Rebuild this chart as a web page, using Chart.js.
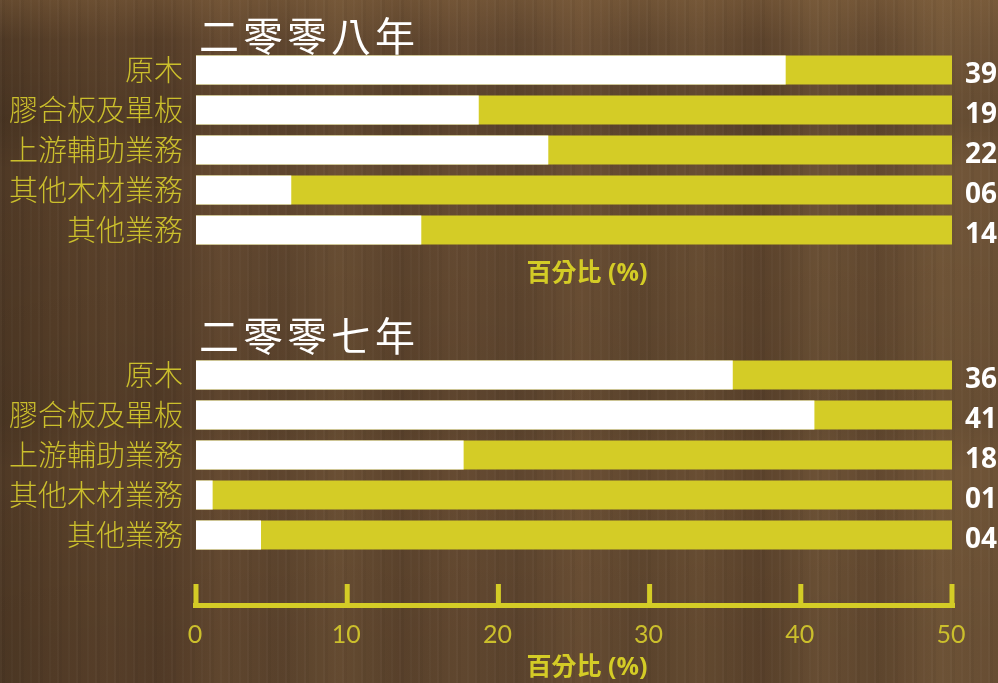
<!DOCTYPE html>
<html>
<head>
<meta charset="utf-8">
<script src="https://cdn.jsdelivr.net/npm/chart.js@4"></script>
<style>
  html, body { margin: 0; padding: 0; }
  body {
    width: 998px; height: 683px; overflow: hidden; position: relative;
    background-color: #624830;
    background-image:
      repeating-linear-gradient(90deg, rgba(255,255,255,0.025) 0 2px, rgba(0,0,0,0.035) 2px 5px, rgba(0,0,0,0) 5px 11px, rgba(255,255,255,0.02) 11px 13px, rgba(0,0,0,0) 13px 19px),
      linear-gradient(180deg, rgba(140,105,65,0.35) 0px, rgba(0,0,0,0) 40px, rgba(0,0,0,0.10) 120px, rgba(0,0,0,0) 170px, rgba(0,0,0,0.08) 420px, rgba(0,0,0,0) 470px, rgba(0,0,0,0.06) 640px),
      linear-gradient(90deg, #4f3925 0px, #563e28 50px, #5b422b 110px, #553d28 160px, #654a31 220px, #5e452e 280px, #6a4f34 340px, #5d442d 400px, #664b32 460px, #5f462f 520px, #6c5035 580px, #60472f 640px, #694e33 700px, #5c432c 760px, #6d5236 820px, #634930 880px, #735739 940px, #6d5236 998px);
  }
  canvas { position: absolute; left: 0; }
  #chart2008 { top: 0; }
  #chart2007 { top: 300px; }
</style>
</head>
<body>
<canvas id="chart2008" width="998" height="300"></canvas>
<canvas id="chart2007" width="998" height="383"></canvas>
<script>
const categories = ['原木', '膠合板及單板', '上游輔助業務', '其他木材業務', '其他業務'];

const values2008 = [39.0, 18.7, 23.3, 6.3, 14.9];
const valueLabels2008 = ['39', '19', '22', '06', '14'];

const values2007 = [35.5, 40.9, 17.7, 1.1, 4.3];
const valueLabels2007 = ['36', '41', '18', '01', '04'];

const trackValues = [50, 50, 50, 50, 50];
const axisTicks = [0, 10, 20, 30, 40, 50];
const axisTitle = '百分比 (%)';

const YELLOW = '#d4cc26';
const LABEL_COLOR = '#cbbf2c';
const CJK = '"Noto Sans CJK TC", "Noto Sans CJK SC", sans-serif';

const decorPlugin = {
  id: 'decor',
  afterDatasetsDraw(chart, args, opts) {
    const { ctx, chartArea, scales: { x } } = chart;
    ctx.save();
    ctx.textAlign = 'left';

    // year heading
    ctx.fillStyle = '#ffffff';
    ctx.font = '40px ' + CJK;
    ctx.textBaseline = 'middle';
    ctx.letterSpacing = '4px';
    ctx.fillText(opts.title, chartArea.left + 3, opts.titleY);
    ctx.letterSpacing = '0px';

    // values at the right end of each bar
    ctx.font = 'bold 28px "Open Sans", sans-serif';
    ctx.textBaseline = 'alphabetic';
    const meta = chart.getDatasetMeta(0);
    meta.data.forEach((bar, i) => {
      ctx.fillText(opts.labels[i], chartArea.right + 13, bar.y + 13);
    });

    // bracket-style axis with upward ticks and its labels
    if (opts.axis) {
      const baseY = x.top + 50;
      const x0 = x.getPixelForValue(axisTicks[0]);
      const x1 = x.getPixelForValue(axisTicks[axisTicks.length - 1]);
      ctx.fillStyle = YELLOW;
      ctx.fillRect(x0 - 3, baseY - 2, x1 - x0 + 6, 5);
      ctx.font = '25px Lato, sans-serif';
      ctx.textAlign = 'center';
      axisTicks.forEach(v => {
        const px = x.getPixelForValue(v);
        ctx.fillStyle = YELLOW;
        ctx.fillRect(px - 2.5, baseY - 21, 5, 22);
        ctx.fillStyle = LABEL_COLOR;
        ctx.fillText(String(v), px - 1, x.top + 88);
      });
    }

    // axis title
    ctx.fillStyle = YELLOW;
    ctx.font = 'bold 25px "Open Sans", ' + CJK;
    ctx.textAlign = 'center';
    ctx.textBaseline = 'middle';
    ctx.fillText(axisTitle, (x.left + x.right) / 2 + 13, x.top + opts.axisTitleDy);

    ctx.restore();
  }
};

function makeChart(id, values, valueLabels, title, showAxis) {
  return new Chart(document.getElementById(id), {
    type: 'bar',
    data: {
      labels: categories,
      datasets: [
        {
          data: values,
          backgroundColor: '#ffffff',
          grouped: false,
          barPercentage: 0.725,
          categoryPercentage: 1
        },
        {
          data: trackValues,
          backgroundColor: YELLOW,
          grouped: false,
          barPercentage: 0.725,
          categoryPercentage: 1
        }
      ]
    },
    options: {
      indexAxis: 'y',
      responsive: false,
      animation: false,
      layout: { padding: { top: showAxis ? 55 : 50, right: 46, left: 0, bottom: 0 } },
      plugins: {
        legend: { display: false },
        tooltip: { enabled: false },
        decor: {
          title,
          titleY: 36,
          labels: valueLabels,
          axis: showAxis,
          axisTitleDy: showAxis ? 113 : 24
        }
      },
      scales: {
        y: {
          grid: { display: false, drawTicks: false },
          border: { display: false },
          ticks: {
            color: LABEL_COLOR,
            padding: 13,
            font: { family: CJK, size: 29, weight: '300' }
          },
          afterFit(scale) { scale.width = 196; }
        },
        x: {
          min: 0,
          max: 50,
          grid: { display: false, drawTicks: false },
          border: { display: false },
          ticks: { display: false, stepSize: 10 },
          afterFit(scale) { scale.height = showAxis ? 128 : 50; }
        }
      }
    },
    plugins: [decorPlugin]
  });
}

makeChart('chart2008', values2008, valueLabels2008, '二零零八年', false);
makeChart('chart2007', values2007, valueLabels2007, '二零零七年', true);
</script>
</body>
</html>
